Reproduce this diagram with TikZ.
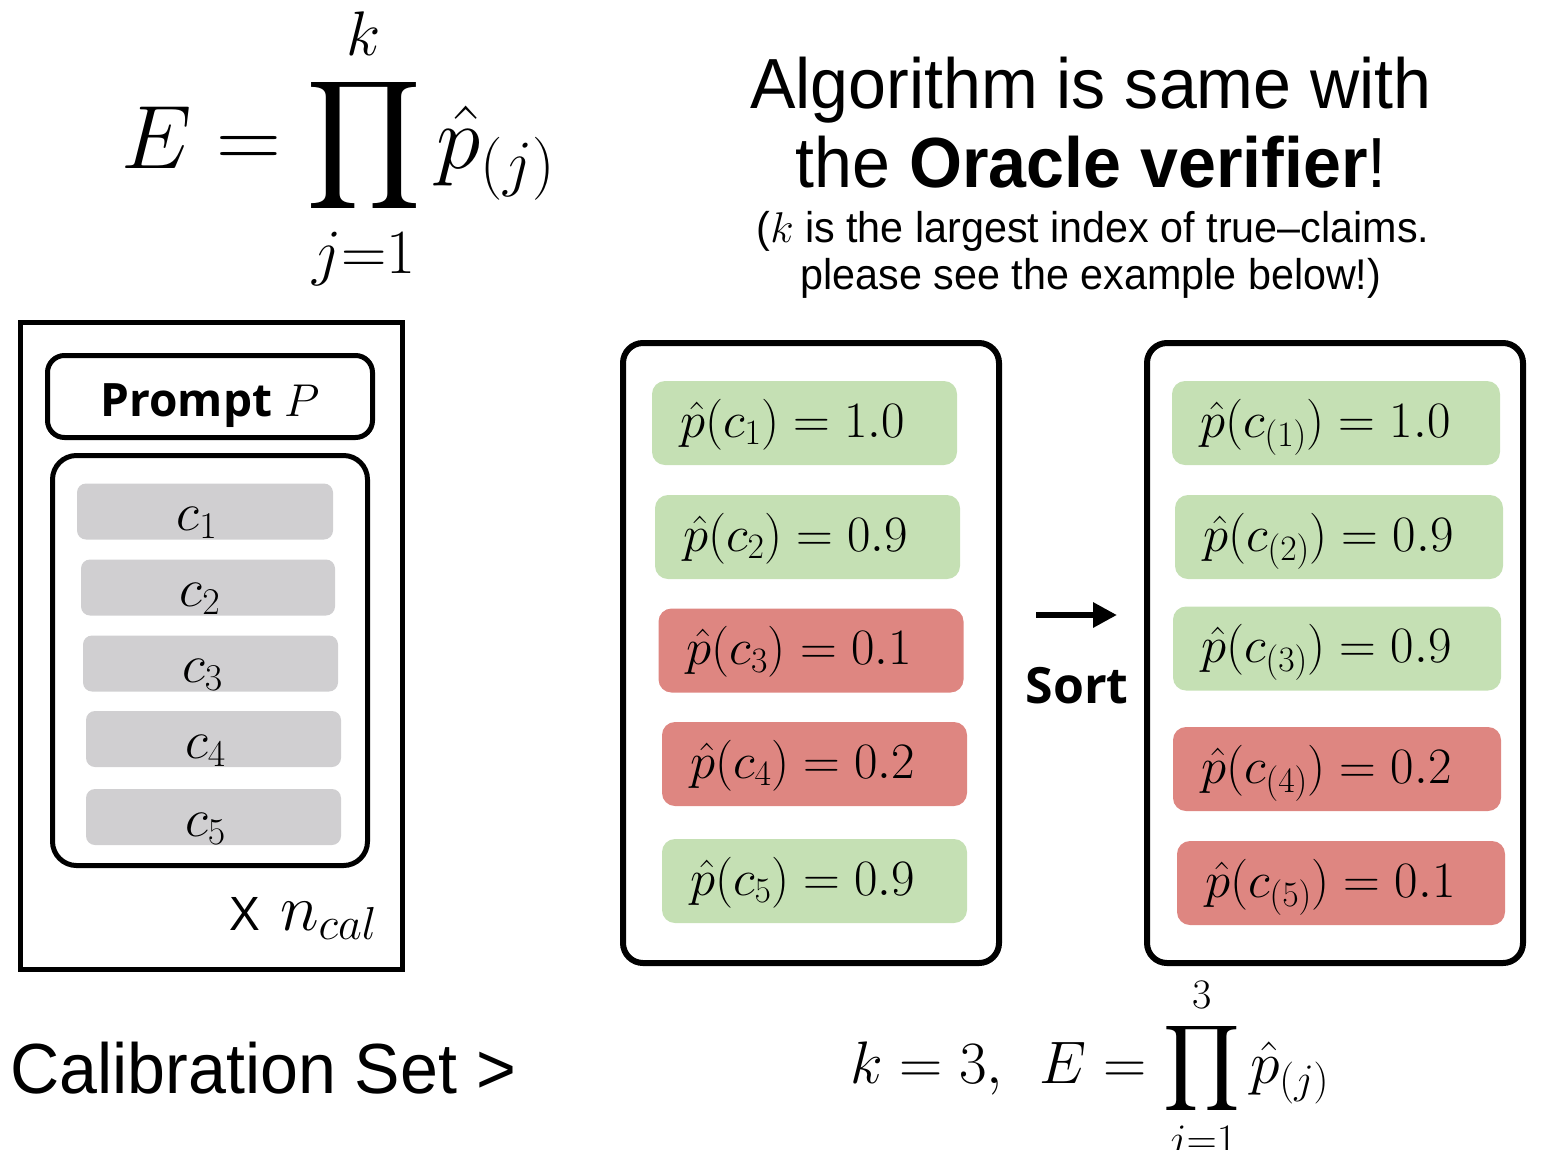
\RequirePackage{fix-cm}
\documentclass[tikz,border=0pt]{standalone}
\usepackage{amsmath}
\usepackage{fontspec}
\usetikzlibrary{arrows.meta}

% let the big operators scale with the font size
\DeclareFontFamily{OMX}{cmex}{}
\DeclareFontShape{OMX}{cmex}{m}{n}{<->cmex10}{}

\newfontfamily\uisans[FakeStretch=0.96]{Liberation Sans}
\newfontfamily\uibold{Open Sans}

\definecolor{okgreen}{HTML}{C5E0B4}
\definecolor{badred}{HTML}{DE8681}
\definecolor{claimgray}{HTML}{D0CFD1}

\tikzset{
  plainframe/.style={draw=black, line width=5pt, inner sep=0pt},
  roundframe/.style={draw=black, line width=6pt, rounded corners=20pt, inner sep=0pt},
  claimbox/.style={fill=claimgray, rounded corners=9pt, inner sep=0pt, minimum height=56pt},
  scorebox/.style={rounded corners=13pt, inner sep=0pt, minimum height=84pt},
  goodbox/.style={scorebox, fill=okgreen, minimum width=305pt},
  badbox/.style={scorebox, fill=badred, minimum width=305pt},
  claimlbl/.style={anchor=base, inner sep=0pt, font=\fontsize{54}{60}\selectfont},
  scorelbl/.style={anchor=base west, inner sep=0pt, font=\fontsize{51}{56}\selectfont},
}

\begin{document}
\begin{tikzpicture}[x=1pt, y=-1pt]
\useasboundingbox (0,0) rectangle (1546,1149);

% headline formula
\node[anchor=base west, inner sep=0pt, font=\fontsize{90}{100}\selectfont] (etop) at (121,168)
  {$\displaystyle E=\prod_{j=1}^{k}\hat{p}_{(j)}$};

% explanation text
\node[anchor=base, inner sep=0pt, font=\uisans\fontsize{71}{80}\selectfont] (t1) at (1091,108) {Algorithm is same with};
\node[anchor=base, inner sep=0pt, font=\uisans\fontsize{71}{80}\selectfont] (t2) at (1091,187) {the \textbf{Oracle verifier}!};
\node[anchor=base, inner sep=0pt, font=\uisans\fontsize{43}{50}\selectfont] (t3) at (1093,242) {($k$ is the largest index of true\textendash claims.};
\node[anchor=base, inner sep=0pt, font=\uisans\fontsize{43}{50}\selectfont] (t4) at (1091,289) {please see the example below!)};

% calibration set panel
\node[plainframe, minimum width=382pt, minimum height=647pt] (calset) at (211.5,646) {};
\node[draw=black, line width=5pt, rounded corners=17pt, minimum width=325pt, minimum height=82pt, inner sep=0pt] (prompt) at (210,396.5) {};
\node[anchor=base, inner sep=0pt, font=\uibold\bfseries\fontsize{46}{52}\selectfont] (promptlbl) at (210,416) {Prompt $P$};
\node[draw=black, line width=5pt, rounded corners=24pt, minimum width=315pt, minimum height=410pt, inner sep=0pt] (claims) at (210,660.5) {};

\node[claimbox, minimum width=256pt] (c1) at (205,511.5) {};
\node[claimbox, minimum width=254pt] (c2) at (208,587.5) {};
\node[claimbox, minimum width=255pt] (c3) at (210.5,663.5) {};
\node[claimbox, minimum width=255pt] (c4) at (213.5,739) {};
\node[claimbox, minimum width=255pt] (c5) at (213.5,817) {};
\node[claimlbl] (c1lbl) at ([shift={(-8,19)}]c1.center) {$c_1$};
\node[claimlbl] (c2lbl) at ([shift={(-8,19)}]c2.center) {$c_2$};
\node[claimlbl] (c3lbl) at ([shift={(-8,19)}]c3.center) {$c_3$};
\node[claimlbl] (c4lbl) at ([shift={(-8,19)}]c4.center) {$c_4$};
\node[claimlbl] (c5lbl) at ([shift={(-8,19)}]c5.center) {$c_5$};

\node[anchor=base east, inner sep=0pt, font=\uisans\fontsize{48}{52}\selectfont] (ncal) at (377,930)
  {X\hspace{20pt}{\fontsize{66}{70}\selectfont$n_{cal}$}};

\node[anchor=base west, inner sep=0pt, font=\uisans\fontsize{71}{80}\selectfont] (calib) at (10,1093) {Calibration Set >};

% unsorted scores
\node[roundframe, minimum width=376pt, minimum height=620pt] (unsorted) at (811,653) {};
\node[goodbox] (m1) at (804.5,423) {};
\node[goodbox] (m2) at (807.5,537) {};
\node[badbox]  (m3) at (811,650.5) {};
\node[badbox]  (m4) at (814.5,764) {};
\node[goodbox] (m5) at (814.5,881) {};
\node[scorelbl] (m1lbl) at ([shift={(28,14)}]m1.west) {$\hat{p}(c_1) = 1.0$};
\node[scorelbl] (m2lbl) at ([shift={(28,14)}]m2.west) {$\hat{p}(c_2) = 0.9$};
\node[scorelbl] (m3lbl) at ([shift={(28,14)}]m3.west) {$\hat{p}(c_3) = 0.1$};
\node[scorelbl] (m4lbl) at ([shift={(28,14)}]m4.west) {$\hat{p}(c_4) = 0.2$};
\node[scorelbl] (m5lbl) at ([shift={(28,14)}]m5.west) {$\hat{p}(c_5) = 0.9$};

% sort step
\coordinate (sortfrom) at (1036,615);
\coordinate (sortto) at (1117,615);
\draw[line width=6pt, -{Triangle[length=24pt,width=24pt]}] (sortfrom) -- (sortto);
\node[anchor=base, inner sep=0pt, font=\uibold\bfseries\fontsize{50}{60}\selectfont] (sortlbl) at (1077,703) {Sort};

% sorted scores
\node[roundframe, minimum width=376pt, minimum height=620pt] (sorted) at (1335,653) {};
\node[goodbox, minimum width=328pt] (r1) at (1336,423) {};
\node[goodbox, minimum width=328pt] (r2) at (1339,537) {};
\node[goodbox, minimum width=328pt] (r3) at (1337,648.5) {};
\node[badbox,  minimum width=328pt] (r4) at (1337,769) {};
\node[badbox,  minimum width=328pt] (r5) at (1341,883) {};
\node[scorelbl] (r1lbl) at ([shift={(28,14)}]r1.west) {$\hat{p}(c_{(1)}) = 1.0$};
\node[scorelbl] (r2lbl) at ([shift={(28,14)}]r2.west) {$\hat{p}(c_{(2)}) = 0.9$};
\node[scorelbl] (r3lbl) at ([shift={(28,14)}]r3.west) {$\hat{p}(c_{(3)}) = 0.9$};
\node[scorelbl] (r4lbl) at ([shift={(28,14)}]r4.west) {$\hat{p}(c_{(4)}) = 0.2$};
\node[scorelbl] (r5lbl) at ([shift={(28,14)}]r5.west) {$\hat{p}(c_{(5)}) = 0.1$};

% worked example
\node[anchor=base west, inner sep=0pt, font=\fontsize{60}{70}\selectfont] (ebot) at (850,1083)
  {$\displaystyle k=3,\;\,E=\prod_{j=1}^{3}\hat{p}_{(j)}$};
\end{tikzpicture}
\end{document}
